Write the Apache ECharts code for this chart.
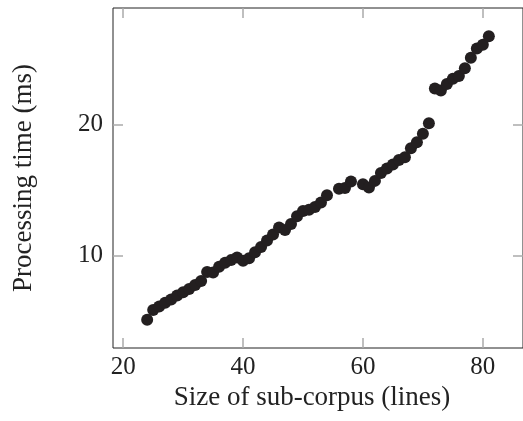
<!DOCTYPE html>
<html>
<head>
<meta charset="utf-8">
<script src="https://cdn.jsdelivr.net/npm/echarts@6/dist/echarts.min.js"></script>
<style>
  html, body { margin: 0; padding: 0; background: #fff; }
  #main { width: 523px; height: 421px; }
</style>
</head>
<body>
<div id="main"></div>
<script>
// sub-corpus size (lines) and processing time (ms)
const sizes = [24, 25, 26, 27, 28, 29, 30, 31, 32, 33, 34, 35, 36, 37, 38, 39, 40, 41, 42, 43,
  44, 45, 46, 47, 48, 49, 50, 51, 52, 53, 54, 56, 57, 58, 60, 61, 62, 63, 64, 65,
  66, 67, 68, 69, 70, 71, 72, 73, 74, 75, 76, 77, 78, 79, 80, 81]
const times = [5.1, 5.85, 6.1, 6.4, 6.65, 6.95, 7.2, 7.45, 7.75, 8.05, 8.75, 8.7, 9.15, 9.45, 9.65, 9.85, 9.6, 9.8, 10.25, 10.65,
  11.15, 11.6, 12.15, 11.95, 12.4, 13.0, 13.4, 13.5, 13.7, 14.05, 14.6, 15.1, 15.15, 15.65, 15.45, 15.2, 15.7, 16.3, 16.65, 16.95,
  17.3, 17.5, 18.2, 18.65, 19.3, 20.1, 22.75, 22.6, 23.1, 23.5, 23.7, 24.3, 25.1, 25.8, 26.1, 26.75]
const xTicks = [20, 40, 60, 80]
const yTicks = [10, 20]

const font = 'Liberation Serif'
const tickStyle = {show: true, inside: true, length: 10, lineStyle: {color: '#aaa', width: 1.5}}

const chart = echarts.init(document.getElementById('main'))
chart.setOption({
  animation: false,
  grid: {
    left: 113, right: -4, top: 8, bottom: 73,
    show: true, borderColor: '#222', borderWidth: 1
  },
  xAxis: [
    {
      type: 'value', min: 18.3, max: 86.7, position: 'bottom',
      name: 'Size of sub-corpus (lines)', nameLocation: 'middle', nameGap: 26,
      nameTextStyle: {fontFamily: font, fontSize: 27, color: '#222', padding: [0, 12, 0, 0]},
      axisLine: {show: false}, splitLine: {show: false},
      axisTick: Object.assign({customValues: xTicks}, tickStyle),
      axisLabel: {customValues: xTicks, margin: 7, fontFamily: font, fontSize: 25, color: '#222'}
    },
    {
      type: 'value', min: 18.3, max: 86.7, position: 'top',
      axisLine: {show: false}, splitLine: {show: false}, axisLabel: {show: false},
      axisTick: Object.assign({customValues: xTicks}, tickStyle)
    }
  ],
  yAxis: [
    {
      type: 'value', min: 2.94, max: 28.9, position: 'left',
      name: 'Processing time (ms)', nameLocation: 'middle', nameGap: 76,
      nameTextStyle: {fontFamily: font, fontSize: 27, color: '#222'},
      axisLine: {show: false}, splitLine: {show: false},
      axisTick: Object.assign({customValues: yTicks}, tickStyle),
      axisLabel: {customValues: yTicks, margin: 10, fontFamily: font, fontSize: 25, color: '#222'}
    },
    {
      type: 'value', min: 2.94, max: 28.9, position: 'right',
      axisLine: {show: false}, splitLine: {show: false}, axisLabel: {show: false},
      axisTick: Object.assign({customValues: yTicks}, tickStyle)
    }
  ],
  series: [
    {
      type: 'scatter',
      xAxisIndex: 0, yAxisIndex: 0,
      symbol: 'circle', symbolSize: 12,
      itemStyle: {color: '#231f20', opacity: 1},
      data: sizes.map((s, i) => [s, times[i]])
    }
  ]
})
</script>
</body>
</html>
